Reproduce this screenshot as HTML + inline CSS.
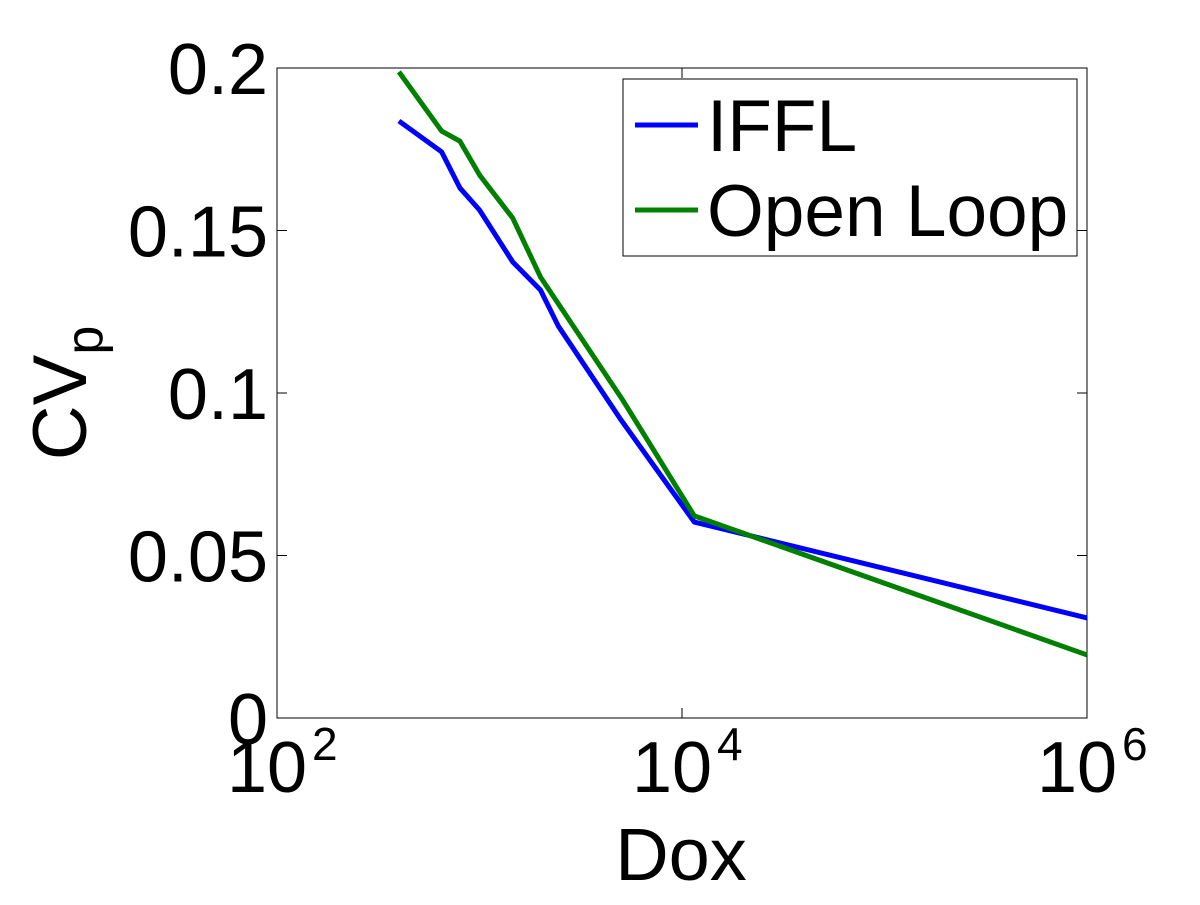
<!DOCTYPE html>
<html><head><meta charset="utf-8"><style>
html,body{margin:0;padding:0;background:#fff;}
svg text{font-family:"Liberation Sans",Arial,sans-serif;fill:#000;}
</style></head><body>
<svg id="chart" width="1200" height="900" xmlns="http://www.w3.org/2000/svg">
<rect width="1200" height="900" fill="#fff"/>
<g id="plot"></g>
</svg>
<script>
const doxValues=[400,650,800,1000,1460,2000,2450,5000,11500,1000000];
const iffl=[0.1837,0.1742,0.1631,0.1563,0.1403,0.1317,0.1206,0.0917,0.0603,0.0308];
const doxOpen=[400,650,800,1000,1460,2000,5100,11500,1000000];
const openLoop=[0.1988,0.1806,0.1775,0.1671,0.1538,0.1357,0.0978,0.0622,0.0194];
const yTicks=[0,0.05,0.1,0.15,0.2];
const yTickLabels=["0","0.05","0.1","0.15","0.2"];
const xTickExps=[2,4,6];

const L=277,R=1087,T=68,B=718;
const xs=v=>L+(Math.log10(v)-2)/4*(R-L);
const ys=v=>B-v/0.2*(B-T);
const NS="http://www.w3.org/2000/svg";
const g=document.getElementById('plot');
function mk(tag,attrs,parent){const e=document.createElementNS(NS,tag);for(const k in attrs)e.setAttribute(k,attrs[k]);(parent||g).appendChild(e);return e;}

const frame=mk('rect',{x:L,y:T,width:R-L,height:B-T,fill:'#fff',stroke:'#000','stroke-width':1});



yTicks.forEach((t,i)=>{
  const y=ys(t);
  const a=mk('line',{x1:L,x2:L+10,y1:y,y2:y,stroke:'#000'});
  
  
  const b=mk('line',{x1:R-10,x2:R,y1:y,y2:y,stroke:'#000'});
  
  
  const tx=mk('text',{x:268,y:y+26,'font-size':72,'text-anchor':'end'});
  tx.textContent=yTickLabels[i];
  
  
});
xTickExps.forEach(e=>{
  const x=xs(Math.pow(10,e));
  const a=mk('line',{x1:x,x2:x,y1:B,y2:B-10,stroke:'#000'});
  
  
  const b=mk('line',{x1:x,x2:x,y1:T,y2:T+10,stroke:'#000'});
  
  
  const tx=mk('text',{x:x-50,y:792,'font-size':72});
  tx.textContent='10';
  
  
  const sp=mk('text',{x:x+35,y:760,'font-size':46});
  sp.textContent=String(e);
  
  
});

function series(xv,yv,color,name){
  const p=mk('polyline',{points:xv.map((v,i)=>xs(v)+','+ys(yv[i])).join(' '),fill:'none',stroke:color,'stroke-width':5,'stroke-linejoin':'round'});
  
  
}
series(doxValues,iffl,'#0000ff','iffl-line');
series(doxOpen,openLoop,'#008000','open-loop-line');

const xt=mk('text',{x:681,y:880,'font-size':74,'text-anchor':'middle'});
xt.textContent='Dox';


const yt=mk('text',{transform:'translate(86,393) rotate(-90)','font-size':76,'text-anchor':'middle'});
yt.innerHTML='CV<tspan font-size="52" dy="16">p</tspan>';



const lg=mk('g',{});


mk('rect',{x:623,y:79,width:454,height:177,fill:'#fff',stroke:'#000'},lg);
[['IFFL','#0000ff',125],['Open Loop','#008000',210]].forEach(([n,c,y])=>{
  const l=mk('line',{x1:635,x2:698,y1:y,y2:y,stroke:c,'stroke-width':5},lg);
  
  
  const t=mk('text',{x:707,y:y+26,'font-size':73},lg);
  t.textContent=n;
  
  
});
</script>
</body></html>
